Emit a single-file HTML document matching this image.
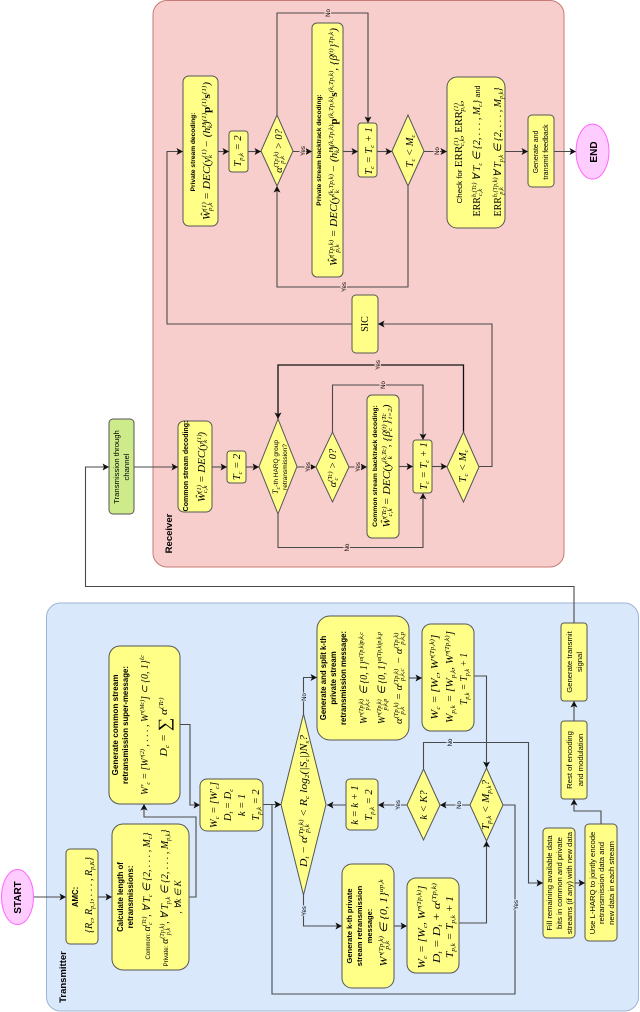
<!DOCTYPE html>
<html><head><meta charset="utf-8"><style>
html,body{margin:0;padding:0;background:#fff}
svg{display:block;filter:blur(.35px)}
text{text-anchor:middle;fill:#000;font-family:"Liberation Sans",sans-serif;font-size:7.7px}
.b{font-weight:bold;font-size:7.8px}
.m{font-family:"Liberation Serif",serif;font-style:italic;font-size:10.5px}
.u{font-size:6.5px}
.l{font-size:6px;paint-order:stroke}
.box{fill:#ffff88;stroke:#555;stroke-width:1}
.c{fill:none;stroke:#4a4a4a;stroke-width:1.1}
.a{marker-end:url(#ar)}
</style></head><body>
<svg xmlns="http://www.w3.org/2000/svg" width="640" height="1012" viewBox="0 0 640 1012">
<defs><marker id="ar" markerUnits="userSpaceOnUse" markerWidth="8" markerHeight="8" refX="6.5" refY="3.5" orient="auto"><path d="M0 0L6.5 3.5L0 7L1.5 3.5z" fill="#111"/></marker></defs>

<!-- panels -->
<rect x="46.5" y="603" width="592" height="408" rx="14" fill="#dae8fc" stroke="#9db5d6"/>
<rect x="153" y="0.5" width="411" height="566.5" rx="14" fill="#f8cecc" stroke="#c77a76"/>

<!-- connectors transmitter -->
<path class="c a" d="M33 897H66"/>
<path class="c a" d="M98 897H112"/>
<path class="c a" d="M189 897H196V817H144V804"/>
<path class="c a" d="M180 724.5H190V805H200"/>
<path class="c a" d="M263 804.5H281"/>
<path class="c a" d="M503 805H515V994H272V804.5H281"/>
<path class="c a" d="M303.5 714V677.5H317"/>
<path class="c a" d="M303.5 895V926H342"/>
<path class="c a" d="M394 926H407"/>
<path class="c a" d="M459 923H486.5V841"/>
<path class="c a" d="M409 678H422"/>
<path class="c a" d="M474 676H486.5V768"/>
<path class="c a" d="M470 805H440"/>
<path class="c a" d="M407 805H378"/>
<path class="c a" d="M346 805H327"/>
<path class="c a" d="M423.5 769V742.5H528.5V883H543"/>
<path class="c a" d="M575 883H585"/>
<path class="c a" d="M601 824V811H574V799"/>
<path class="c a" d="M574 721V701"/>
<path class="c a" d="M574 623V586.5H85.5V467H109"/>
<path class="c a" d="M134 467H178"/>

<!-- connectors receiver -->
<path class="c a" d="M212 467H227"/>
<path class="c a" d="M246 467H259"/>
<path class="c a" d="M297 467H316"/>
<path class="c a" d="M349 467H367"/>
<path class="c a" d="M399 466.5H413"/>
<path class="c a" d="M432 466.5H447"/>
<path class="c a" d="M332.5 432V385H423V440"/>
<path class="c a" d="M278 514V547.5H423V493"/>
<path class="c a" style="stroke:#111;stroke-width:1.3" d="M463.5 432V365H278V419"/>
<path class="c a" d="M479 466.5H492V324H378"/>
<path class="c a" d="M352 324H167V151.5H183"/>
<path class="c a" d="M218 151.5H229"/>
<path class="c a" d="M248 151.5H261"/>
<path class="c a" d="M293 151.5H312"/>
<path class="c a" d="M343 151.5H358"/>
<path class="c a" d="M377 151.5H392"/>
<path class="c a" d="M424 151.5H447"/>
<path class="c a" d="M505 151.5H528"/>
<path class="c a" d="M554 151.5H576"/>
<path class="c a" d="M277 115V13H368V123"/>
<path class="c a" d="M408 186V287H277V186"/>

<!-- transmitter shapes -->
<ellipse cx="17.5" cy="897" rx="16" ry="27.5" fill="#ffccff" stroke="#ff66ff"/>
<rect class="box" x="66" y="849" width="32" height="95" rx="4"/>
<rect class="box" x="112" y="824" width="77" height="146" rx="11"/>
<rect class="box" x="109" y="646" width="71" height="158" rx="11"/>
<rect class="box" x="200" y="779" width="63" height="52" rx="7"/>
<polygon class="box" points="281,804.5 303.5,714 326,804.5 303.5,895"/>
<rect class="box" x="317" y="616" width="92" height="124" rx="13"/>
<rect class="box" x="342" y="864" width="52" height="124" rx="10"/>
<rect class="box" x="407" y="878" width="52" height="95" rx="9"/>
<rect class="box" x="422" y="624" width="52" height="107" rx="9"/>
<rect class="box" x="346" y="779" width="32" height="51" rx="4"/>
<polygon class="box" points="407,805 423.5,769 440,805 423.5,840"/>
<polygon class="box" points="470,805 486.5,768 503,805 486.5,841"/>
<rect class="box" x="543" y="828" width="32" height="110" rx="4"/>
<rect class="box" x="585" y="824" width="32" height="117" rx="4"/>
<rect class="box" x="561" y="721" width="26" height="78" rx="3"/>
<rect class="box" x="561" y="623" width="26" height="78" rx="3"/>
<rect x="109" y="419" width="25" height="95" rx="4" fill="#cdeb8b" stroke="#555"/>

<!-- receiver shapes -->
<rect class="box" x="178" y="421" width="34" height="91" rx="6"/>
<rect class="box" x="227" y="451" width="19" height="32" rx="3"/>
<polygon class="box" points="259,466.5 278,419 297,466.5 278,514"/>
<polygon class="box" points="316,467 332.5,432 349,467 332.5,502"/>
<rect class="box" x="367" y="395" width="32" height="143" rx="5"/>
<rect class="box" x="413" y="440" width="19" height="53" rx="3"/>
<polygon class="box" points="447,467 463.5,432 479,467 463.5,502"/>
<rect class="box" x="352" y="295" width="26" height="58" rx="4"/>
<rect class="box" x="183" y="76" width="35" height="150" rx="6"/>
<rect class="box" x="229" y="131" width="19" height="41" rx="3"/>
<polygon class="box" points="261,151 277,115 293,151 277,186"/>
<rect class="box" x="312" y="23" width="31" height="254" rx="5"/>
<rect class="box" x="358" y="123" width="19" height="54" rx="3"/>
<polygon class="box" points="392,151 408,115 424,151 408,186"/>
<rect class="box" x="447" y="77" width="58" height="151" rx="10"/>
<rect class="box" x="528" y="115" width="26" height="72" rx="4"/>
<ellipse cx="592.5" cy="151.5" rx="16.5" ry="27.5" fill="#ffccff" stroke="#ff66ff"/>

<!-- connector labels -->
<text class="l" transform="translate(306 697) rotate(-90)" style="stroke:#dae8fc;stroke-width:2">No</text>
<text class="l" transform="translate(306 911) rotate(-90)" style="stroke:#dae8fc;stroke-width:2">Yes</text>
<text class="l" transform="translate(461 805) rotate(-90)" style="stroke:#dae8fc;stroke-width:2">No</text>
<text class="l" transform="translate(400 805) rotate(-90)" style="stroke:#dae8fc;stroke-width:2">Yes</text>
<text class="l" transform="translate(452 742.5) rotate(-90)" style="stroke:#dae8fc;stroke-width:2">No</text>
<text class="l" transform="translate(518 905) rotate(-90)" style="stroke:#dae8fc;stroke-width:2">Yes</text>
<text class="l" transform="translate(310 467) rotate(-90)" style="stroke:#f8cecc;stroke-width:2">Yes</text>
<text class="l" transform="translate(360 467) rotate(-90)" style="stroke:#f8cecc;stroke-width:2">Yes</text>
<text class="l" transform="translate(385 385) rotate(-90)" style="stroke:#f8cecc;stroke-width:2">No</text>
<text class="l" transform="translate(380 365) rotate(-90)" style="stroke:#f8cecc;stroke-width:2">Yes</text>
<text class="l" transform="translate(349 547.5) rotate(-90)" style="stroke:#f8cecc;stroke-width:2">No</text>
<text class="l" transform="translate(330 13) rotate(-90)" style="stroke:#f8cecc;stroke-width:2">No</text>
<text class="l" transform="translate(346 287) rotate(-90)" style="stroke:#f8cecc;stroke-width:2">Yes</text>
<text class="l" transform="translate(305 151) rotate(-90)" style="stroke:#f8cecc;stroke-width:2">Yes</text>
<text class="l" transform="translate(439 151) rotate(-90)" style="stroke:#f8cecc;stroke-width:2">No</text>

<!-- titles -->
<text class="b" style="font-size:9.5px" transform="translate(66 977) rotate(-90)">Transmitter</text>
<text class="b" style="font-size:9.5px" transform="translate(172 533.5) rotate(-90)">Receiver</text>
<text class="b" style="font-size:10px" transform="translate(21 897.5) rotate(-90)">START</text>
<text class="b" style="font-size:10px" transform="translate(597 152) rotate(-90)">END</text>

<!-- AMC -->
<text class="b" transform="translate(78 897) rotate(-90)">AMC:</text>
<text class="m" textLength="76" lengthAdjust="spacingAndGlyphs" transform="translate(92 895) rotate(-90)">{R<tspan class="u" dy="2">c</tspan><tspan dy="-2">, R</tspan><tspan class="u" dy="2">p,1</tspan><tspan dy="-2">, . . . , R</tspan><tspan class="u" dy="2">p,K</tspan><tspan dy="-2">}</tspan></text>

<!-- Calculate -->
<text class="b" transform="translate(123 897) rotate(-90)">Calculate length of</text>
<text class="b" transform="translate(133 897) rotate(-90)">retransmissions:</text>
<text class="m" textLength="127" lengthAdjust="spacingAndGlyphs" transform="translate(150 896) rotate(-90)"><tspan style="font:6.5px 'Liberation Sans'">Common: </tspan>α<tspan class="u" dy="-4">(Tc)</tspan><tspan class="u" dy="6" dx="-9">c</tspan><tspan dy="-2" dx="6">, ∀ T</tspan><tspan class="u" dy="2">c</tspan><tspan dy="-2"> ∈ {2, . . . , M</tspan><tspan class="u" dy="2">c</tspan><tspan dy="-2">}</tspan></text>
<text class="m" textLength="137" lengthAdjust="spacingAndGlyphs" transform="translate(168 898) rotate(-90)"><tspan style="font:6.5px 'Liberation Sans'">Private: </tspan>α<tspan class="u" dy="-4">(Tp,k)</tspan><tspan class="u" dy="6" dx="-12">p,k</tspan><tspan dy="-2" dx="4">, ∀ T</tspan><tspan class="u" dy="2">p,k</tspan><tspan dy="-2"> ∈ {2, . . . , M</tspan><tspan class="u" dy="2">p,k</tspan><tspan dy="-2">}</tspan></text>
<text class="m" style="font-size:9px" transform="translate(181 897) rotate(-90)">, ∀k ∈ K</text>

<!-- Gen common -->
<text class="b" style="font-size:8.2px" transform="translate(118 725) rotate(-90)">Generate common stream</text>
<text class="b" transform="translate(128 725) rotate(-90)">retransmission super-message:</text>
<text class="m" textLength="140" lengthAdjust="spacingAndGlyphs" transform="translate(148 725) rotate(-90)">W′<tspan class="u" dy="2">c</tspan><tspan dy="-2"> = [W′</tspan><tspan class="u" dy="-4">(2)</tspan><tspan dy="4"> , . . . , W′</tspan><tspan class="u" dy="-4">(Mc)</tspan><tspan dy="4">] ⊂ {0, 1}</tspan><tspan class="u" dy="-4">ℓc</tspan></text>
<text class="m" textLength="59" lengthAdjust="spacingAndGlyphs" transform="translate(167 727) rotate(-90)">D<tspan class="u" dy="2">c</tspan><tspan dy="-2"> = </tspan><tspan style="font-size:17px;font-style:normal" dy="3">∑</tspan><tspan dy="-3"> α</tspan><tspan class="u" dy="-4">(Tc)</tspan></text>

<!-- Wc -->
<text class="m" transform="translate(217 805) rotate(-90)">W<tspan class="u" dy="2">c</tspan><tspan dy="-2"> = [W′</tspan><tspan class="u" dy="2">c</tspan><tspan dy="-2">]</tspan></text>
<text class="m" transform="translate(231 805) rotate(-90)">D<tspan class="u" dy="2">t</tspan><tspan dy="-2"> = D</tspan><tspan class="u" dy="2">c</tspan></text>
<text class="m" transform="translate(245 805) rotate(-90)">k = 1</text>
<text class="m" transform="translate(259 805) rotate(-90)">T<tspan class="u" dy="2">p,k</tspan><tspan dy="-2"> = 2</tspan></text>

<!-- big diamond -->
<text class="m" textLength="132" lengthAdjust="spacingAndGlyphs" transform="translate(307 801) rotate(-90)">D<tspan class="u" dy="2">t</tspan><tspan dy="-2"> − α</tspan><tspan class="u" dy="-4">(Tp,k)</tspan><tspan class="u" dy="6" dx="-12">p,k</tspan><tspan dy="-2" dx="4"> &lt; R</tspan><tspan class="u" dy="2">c</tspan><tspan dy="-2"> log</tspan><tspan class="u" dy="2">2</tspan><tspan dy="-2">(|S</tspan><tspan class="u" dy="2">c</tspan><tspan dy="-2">|)N</tspan><tspan class="u" dy="2">s</tspan><tspan dy="-2">?</tspan></text>

<!-- Gen split -->
<text class="b" transform="translate(326 678) rotate(-90)">Generate and split k-th</text>
<text class="b" transform="translate(336 678) rotate(-90)">private stream</text>
<text class="b" transform="translate(346 678) rotate(-90)">retransmission message:</text>
<text class="m" textLength="92" lengthAdjust="spacingAndGlyphs" transform="translate(367 678) rotate(-90)">W′<tspan class="u" dy="-4">(Tp,k)</tspan><tspan class="u" dy="6" dx="-12">p,k,c</tspan><tspan dy="-2" dx="2"> ∈ {0, 1}</tspan><tspan class="u" dy="-4">α(Tp,k)p,k,c</tspan></text>
<text class="m" textLength="92" lengthAdjust="spacingAndGlyphs" transform="translate(385 678) rotate(-90)">W′<tspan class="u" dy="-4">(Tp,k)</tspan><tspan class="u" dy="6" dx="-12">p,k,p</tspan><tspan dy="-2" dx="2"> ∈ {0, 1}</tspan><tspan class="u" dy="-4">α(Tp,k)p,k,p</tspan></text>
<text class="m" textLength="92" lengthAdjust="spacingAndGlyphs" transform="translate(402 678) rotate(-90)">α<tspan class="u" dy="-4">(Tp,k)</tspan><tspan class="u" dy="6" dx="-12">p,k</tspan><tspan dy="-2" dx="4"> = α</tspan><tspan class="u" dy="-4">(Tp,k)</tspan><tspan class="u" dy="6" dx="-12">p,k,c</tspan><tspan dy="-2" dx="2"> − α</tspan><tspan class="u" dy="-4">(Tp,k)</tspan><tspan class="u" dy="6" dx="-12">p,k,p</tspan></text>

<!-- Gen k-th -->
<text class="b" style="font-size:7.5px" transform="translate(352 926) rotate(-90)">Generate k-th private</text>
<text class="b" style="font-size:7.5px" transform="translate(362 926) rotate(-90)">stream retransmission</text>
<text class="b" style="font-size:7.5px" transform="translate(372 926) rotate(-90)">message:</text>
<text class="m" textLength="87" lengthAdjust="spacingAndGlyphs" transform="translate(387 923) rotate(-90)">W′<tspan class="u" dy="-4">(Tp,k)</tspan><tspan class="u" dy="6" dx="-12">p,k</tspan><tspan dy="-2" dx="4"> ∈ {0, 1}</tspan><tspan class="u" dy="-4">αp,k</tspan></text>

<!-- Wc 2 -->
<text class="m" textLength="83" lengthAdjust="spacingAndGlyphs" transform="translate(425 927) rotate(-90)">W<tspan class="u" dy="2">c</tspan><tspan dy="-2"> = [W</tspan><tspan class="u" dy="2">c</tspan><tspan dy="-2">, W′</tspan><tspan class="u" dy="-4">(Tp,k)</tspan><tspan dy="4">]</tspan></text>
<text class="m" textLength="80" lengthAdjust="spacingAndGlyphs" transform="translate(440 923) rotate(-90)">D<tspan class="u" dy="2">t</tspan><tspan dy="-2"> = D</tspan><tspan class="u" dy="2">t</tspan><tspan dy="-2"> + α</tspan><tspan class="u" dy="-4">(Tp,k)</tspan></text>
<text class="m" textLength="62" lengthAdjust="spacingAndGlyphs" transform="translate(453 927) rotate(-90)">T<tspan class="u" dy="2">p,k</tspan><tspan dy="-2"> = T</tspan><tspan class="u" dy="2">p,k</tspan><tspan dy="-2"> + 1</tspan></text>

<!-- Retrans W -->
<text class="m" textLength="85" lengthAdjust="spacingAndGlyphs" transform="translate(438 677) rotate(-90)">W<tspan class="u" dy="2">c</tspan><tspan dy="-2"> = [W</tspan><tspan class="u" dy="2">c</tspan><tspan dy="-2">, W′</tspan><tspan class="u" dy="-4">(Tp,k)</tspan><tspan dy="4">]</tspan></text>
<text class="m" textLength="92" lengthAdjust="spacingAndGlyphs" transform="translate(453 677) rotate(-90)">W<tspan class="u" dy="2">p,k</tspan><tspan dy="-2"> = [W</tspan><tspan class="u" dy="2">p,k</tspan><tspan dy="-2">, W′</tspan><tspan class="u" dy="-4">(Tp,k)</tspan><tspan dy="4">]</tspan></text>
<text class="m" textLength="52" lengthAdjust="spacingAndGlyphs" transform="translate(467 679) rotate(-90)">T<tspan class="u" dy="2">p,k</tspan><tspan dy="-2"> = T</tspan><tspan class="u" dy="2">p,k</tspan><tspan dy="-2"> + 1</tspan></text>

<!-- small -->
<text class="m" transform="translate(358 805) rotate(-90)">k = k + 1</text>
<text class="m" transform="translate(372 805) rotate(-90)">T<tspan class="u" dy="2">p,k</tspan><tspan dy="-2"> = 2</tspan></text>
<text class="m" transform="translate(427 805) rotate(-90)">k &lt; K?</text>
<text class="m" textLength="50" lengthAdjust="spacingAndGlyphs" transform="translate(489 805) rotate(-90)">T<tspan class="u" dy="2">p,k</tspan><tspan dy="-2"> &lt; M</tspan><tspan class="u" dy="2">p,k</tspan><tspan dy="-2">?</tspan></text>

<!-- right side transmitter -->
<text transform="translate(552 883) rotate(-90)">Fill remaining available data</text>
<text transform="translate(562 883) rotate(-90)">bits in common and private</text>
<text transform="translate(572 883) rotate(-90)">streams (if any) with new data</text>
<text transform="translate(595 883) rotate(-90)">Use L-HARQ to jointly encode</text>
<text transform="translate(604 883) rotate(-90)">retransmission data and</text>
<text transform="translate(614 883) rotate(-90)">new data in each stream</text>
<text transform="translate(572 760) rotate(-90)">Rest of encoding</text>
<text transform="translate(583 760) rotate(-90)">and modulation</text>
<text transform="translate(572 662) rotate(-90)">Generate transmit</text>
<text transform="translate(582 662) rotate(-90)">signal</text>
<text transform="translate(119 467) rotate(-90)">Transmission through</text>
<text transform="translate(129 467) rotate(-90)">channel</text>

<!-- Receiver texts -->
<text class="b" style="font-size:7px" transform="translate(188 466) rotate(-90)">Common stream decoding:</text>
<text class="m" textLength="70" lengthAdjust="spacingAndGlyphs" transform="translate(205 467) rotate(-90)">Ŵ<tspan class="u" dy="-4">(1)</tspan><tspan class="u" dy="6" dx="-8">c,k</tspan><tspan dy="-2"> = DEC(y</tspan><tspan class="u" dy="-4">(1)</tspan><tspan class="u" dy="6" dx="-8">k</tspan><tspan dy="-2" dx="4">)</tspan></text>
<text class="m" transform="translate(240 467) rotate(-90)">T<tspan class="u" dy="2">c</tspan><tspan dy="-2"> = 2</tspan></text>
<text class="m" style="font-size:8px" transform="translate(278 467) rotate(-90)">T<tspan class="u" dy="2">c</tspan><tspan dy="-2" style="font:6.5px 'Liberation Sans'">-th HARQ group</tspan></text>
<text style="font-size:6.5px" transform="translate(287 467) rotate(-90)">retransmission?</text>
<text class="m" transform="translate(336 468) rotate(-90)">α<tspan class="u" dy="-4">(Tc)</tspan><tspan class="u" dy="6" dx="-9">c</tspan><tspan dy="-2" dx="6"> &gt; 0?</tspan></text>
<text class="b" transform="translate(377 466) rotate(-90)" style="font-size:6.8px">Common stream backtrack decoding:</text>
<text class="m" textLength="123" lengthAdjust="spacingAndGlyphs" transform="translate(390 466) rotate(-90)">Ŵ<tspan class="u" dy="-4">(Tc)</tspan><tspan class="u" dy="6" dx="-9">c,k</tspan><tspan dy="-2"> = DEC(y</tspan><tspan class="u" dy="-4">(k,Tc)</tspan><tspan class="u" dy="6" dx="-12">k</tspan><tspan dy="-2" dx="8">, {β</tspan><tspan class="u" dy="-4">(t)</tspan><tspan class="u" dy="6" dx="-6">c</tspan><tspan dy="-2" dx="3">}</tspan><tspan class="u" dy="-4">Tc</tspan><tspan class="u" dy="6" dx="-5">t=2</tspan><tspan dy="-2">)</tspan></text>
<text class="m" transform="translate(427 466) rotate(-90)">T<tspan class="u" dy="2">c</tspan><tspan dy="-2"> = T</tspan><tspan class="u" dy="2">c</tspan><tspan dy="-2"> + 1</tspan></text>
<text class="m" transform="translate(466 466) rotate(-90)">T<tspan class="u" dy="2">c</tspan><tspan dy="-2"> &lt; M</tspan><tspan class="u" dy="2">c</tspan></text>
<text style="font:10px 'Liberation Serif',serif" transform="translate(368 324) rotate(-90)">SIC</text>

<text class="b" style="font-size:6.6px" transform="translate(195 152) rotate(-90)">Private stream decoding:</text>
<text class="m" textLength="138" lengthAdjust="spacingAndGlyphs" transform="translate(210 151) rotate(-90)">Ŵ<tspan class="u" dy="-4">(1)</tspan><tspan class="u" dy="6" dx="-8">p,k</tspan><tspan dy="-2"> = DEC(y</tspan><tspan class="u" dy="-4">(1)</tspan><tspan class="u" dy="6" dx="-8">k</tspan><tspan dy="-2" dx="4"> − (h</tspan><tspan class="u" dy="-4">H</tspan><tspan class="u" dy="6" dx="-5">k</tspan><tspan dy="-2">)</tspan><tspan class="u" dy="-4">(1)</tspan><tspan dy="4" style="font-weight:bold;font-style:normal">p</tspan><tspan class="u" dy="-4">(1)</tspan><tspan dy="4" style="font-weight:bold;font-style:normal">s</tspan><tspan class="u" dy="-4">(1)</tspan><tspan dy="4">)</tspan></text>
<text class="m" transform="translate(241 151) rotate(-90)">T<tspan class="u" dy="2">p,k</tspan><tspan dy="-2"> = 2</tspan></text>
<text class="m" transform="translate(282 151) rotate(-90)">α<tspan class="u" dy="-4">(Tp,k)</tspan><tspan class="u" dy="6" dx="-12">p,k</tspan><tspan dy="-2" dx="4"> &gt; 0?</tspan></text>
<text class="b" style="font-size:6.6px" transform="translate(321 150) rotate(-90)">Private stream backtrack decoding:</text>
<text class="m" textLength="238" lengthAdjust="spacingAndGlyphs" transform="translate(337 147) rotate(-90)">Ŵ<tspan class="u" dy="-4">(Tp,k)</tspan><tspan class="u" dy="6" dx="-12">p,k</tspan><tspan dy="-2" dx="4"> = DEC(y</tspan><tspan class="u" dy="-4">(k,Tp,k)</tspan><tspan class="u" dy="6" dx="-18">k</tspan><tspan dy="-2" dx="14"> − (h</tspan><tspan class="u" dy="-4">H</tspan><tspan class="u" dy="6" dx="-5">k</tspan><tspan dy="-2">)</tspan><tspan class="u" dy="-4">(k,Tp,k)</tspan><tspan dy="4" style="font-weight:bold;font-style:normal">p</tspan><tspan class="u" dy="-4">(k,Tp,k)</tspan><tspan dy="4" style="font-weight:bold;font-style:normal">s</tspan><tspan class="u" dy="-4">(k,Tp,k)</tspan><tspan dy="4">, {β</tspan><tspan class="u" dy="-4">(t)</tspan><tspan dy="4">}</tspan><tspan class="u" dy="-4">Tp,k</tspan><tspan dy="4">)</tspan></text>
<text class="m" transform="translate(372 151) rotate(-90)">T<tspan class="u" dy="2">c</tspan><tspan dy="-2"> = T</tspan><tspan class="u" dy="2">c</tspan><tspan dy="-2"> + 1</tspan></text>
<text class="m" transform="translate(413 151) rotate(-90)">T<tspan class="u" dy="2">c</tspan><tspan dy="-2"> &lt; M</tspan><tspan class="u" dy="2">c</tspan></text>
<text class="m" textLength="103" lengthAdjust="spacingAndGlyphs" transform="translate(462 152) rotate(-90)"><tspan style="font:7.5px 'Liberation Sans'">Check for </tspan><tspan style="font-style:normal">ERR</tspan><tspan class="u" dy="-4">(1)</tspan><tspan class="u" dy="6" dx="-8">c,k</tspan><tspan dy="-2">, </tspan><tspan style="font-style:normal">ERR</tspan><tspan class="u" dy="-4">(1)</tspan><tspan class="u" dy="6" dx="-8">p,k</tspan><tspan dy="-2">,</tspan></text>
<text class="m" textLength="131" lengthAdjust="spacingAndGlyphs" transform="translate(480 151) rotate(-90)"><tspan style="font-style:normal">ERR</tspan><tspan class="u" dy="-4">b,(Tc)</tspan><tspan class="u" dy="6" dx="-14">c,k</tspan><tspan dy="-2" dx="6"> ∀ T</tspan><tspan class="u" dy="2">c</tspan><tspan dy="-2"> ∈ {2, . . . , M</tspan><tspan class="u" dy="2">c</tspan><tspan dy="-2">} </tspan><tspan style="font:7.5px 'Liberation Sans'">and</tspan></text>
<text class="m" textLength="129" lengthAdjust="spacingAndGlyphs" transform="translate(501 152) rotate(-90)"><tspan style="font-style:normal">ERR</tspan><tspan class="u" dy="-4">b,(Tp,k)</tspan><tspan class="u" dy="6" dx="-18">p,k</tspan><tspan dy="-2" dx="8"> ∀ T</tspan><tspan class="u" dy="2">p,k</tspan><tspan dy="-2"> ∈ {2, . . . , M</tspan><tspan class="u" dy="2">p,k</tspan><tspan dy="-2">}</tspan></text>
<text style="font-size:7px" transform="translate(538 152) rotate(-90)">Generate and</text>
<text style="font-size:7px" transform="translate(548 152) rotate(-90)">transmit feedback</text>
</svg>
</body></html>
